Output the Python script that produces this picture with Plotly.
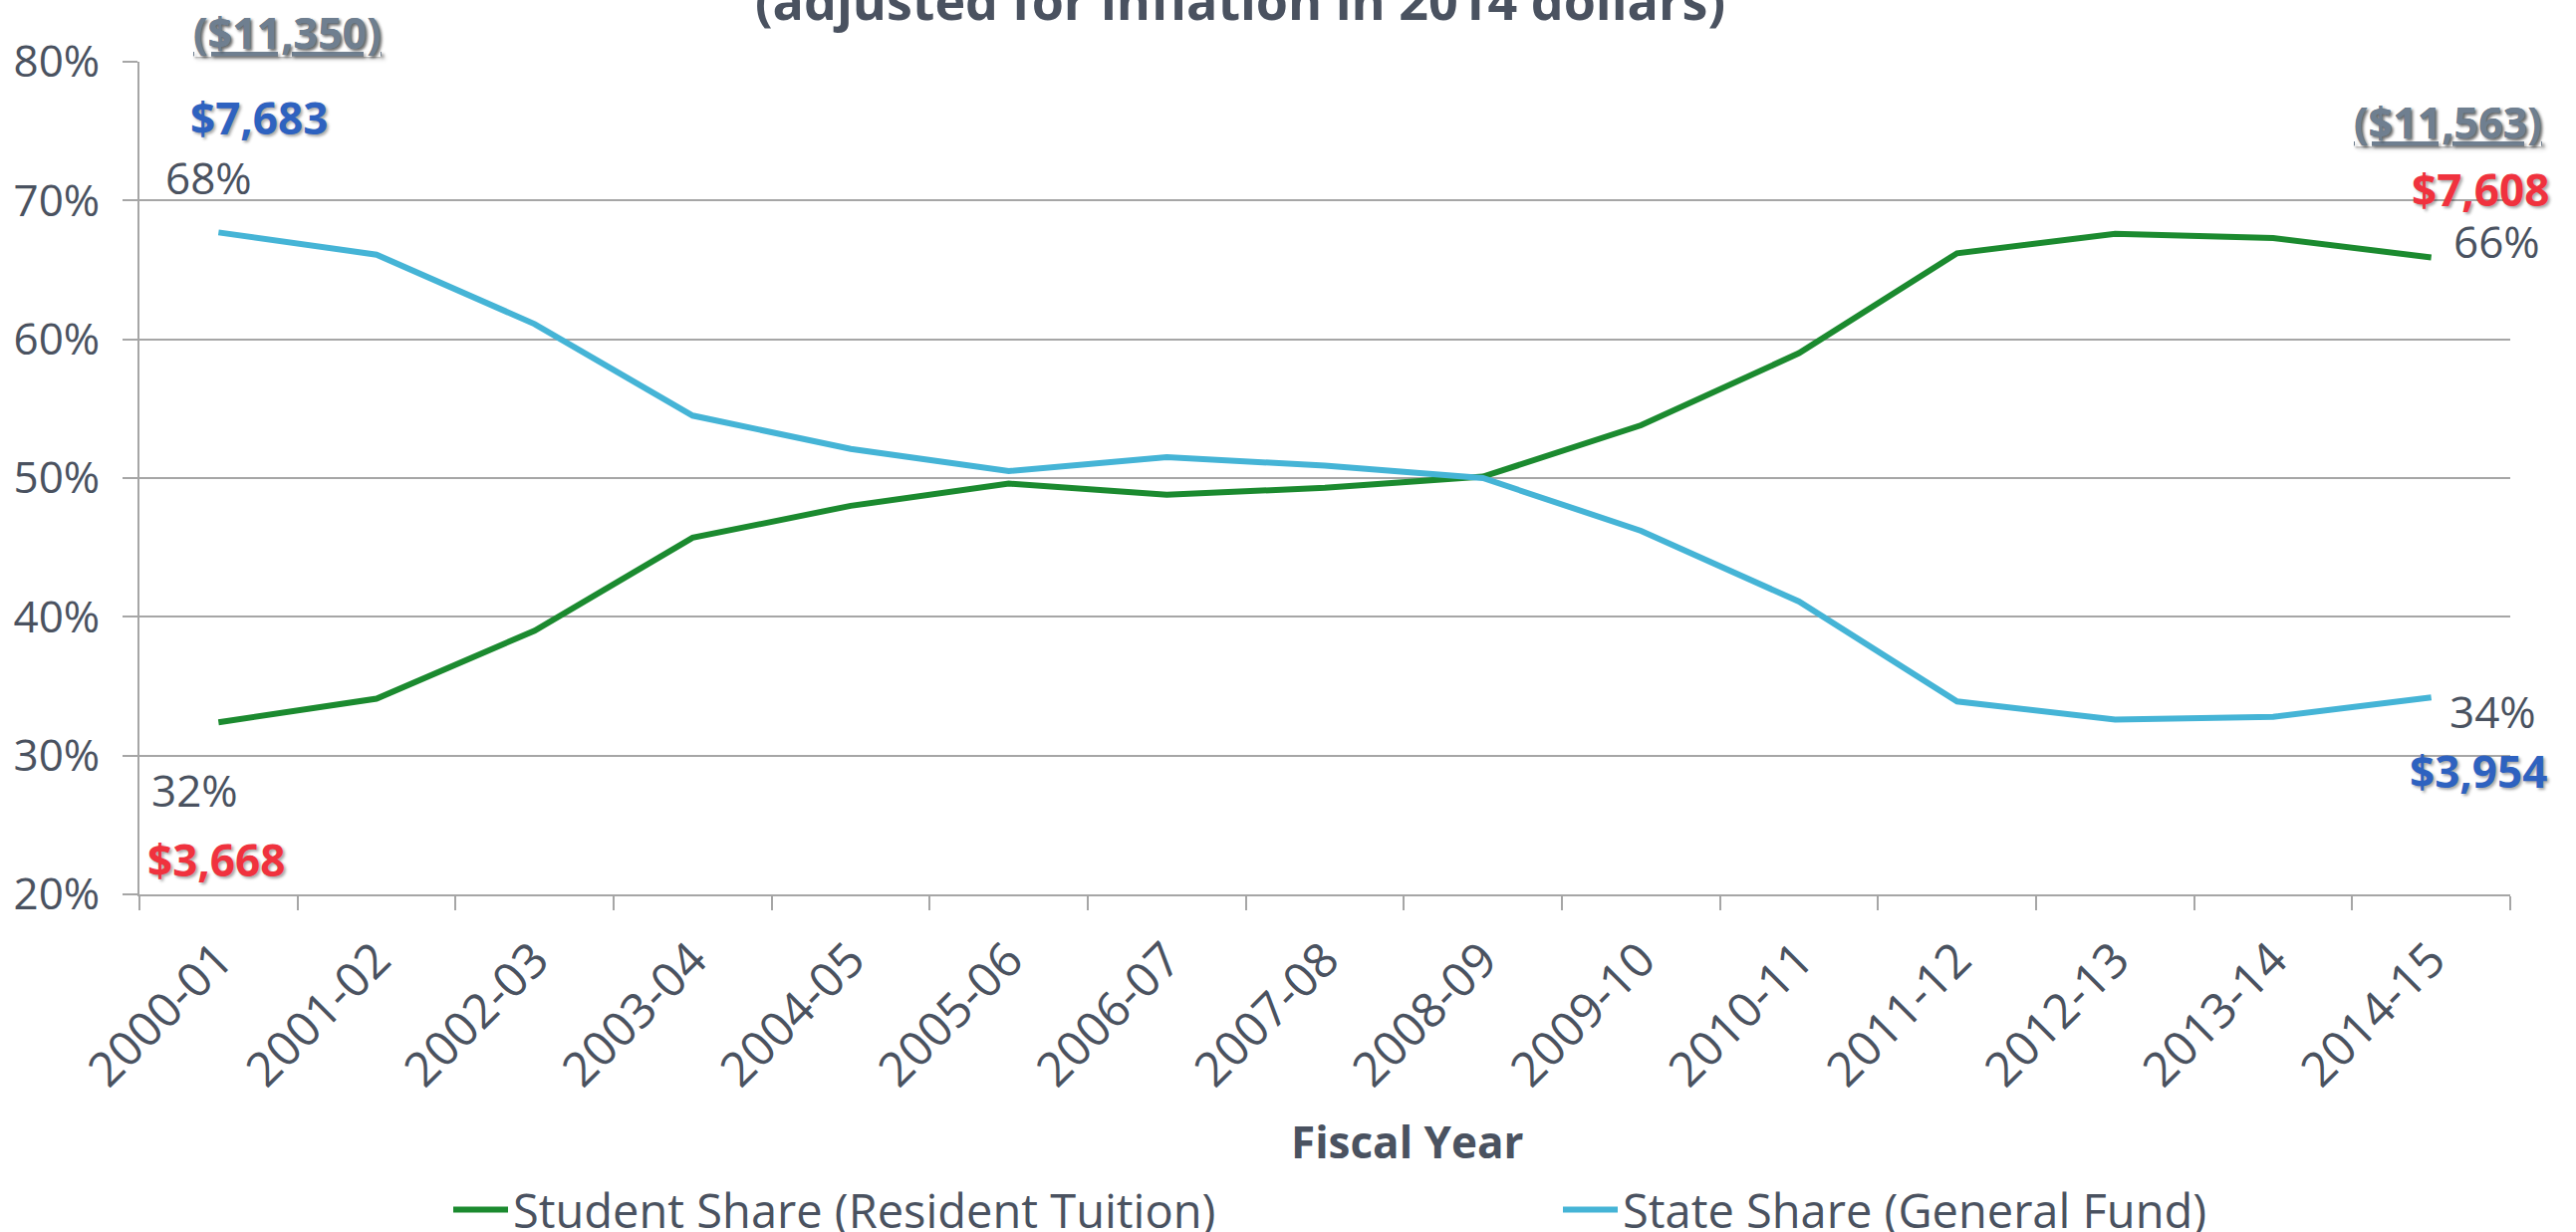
import plotly.graph_objects as go

years = ["2000-01", "2001-02", "2002-03", "2003-04", "2004-05", "2005-06", "2006-07",
         "2007-08", "2008-09", "2009-10", "2010-11", "2011-12", "2012-13", "2013-14", "2014-15"]
student_share = [32.4, 34.1, 39.0, 45.7, 48.0, 49.6, 48.8, 49.3, 50.1, 53.8, 59.0, 66.2, 67.6, 67.3, 65.9]
state_share = [67.7, 66.1, 61.1, 54.5, 52.1, 50.5, 51.5, 50.9, 50.0, 46.2, 41.1, 33.9, 32.6, 32.8, 34.2]
series_names = ["Student Share (Resident Tuition)", "State Share (General Fund)"]
y_ticks = [20, 30, 40, 50, 60, 70, 80]
y_tick_labels = ["20%", "30%", "40%", "50%", "60%", "70%", "80%"]

W, H = 2586, 1237
L, R, T, B = 140, 66, 62, 339
PW, PH = W - L - R, H - T - B

def px_x(p):
    return (p - L) / PW

def px_y(p):
    return (H - B - p) / PH

TXT = "#4A5260"
GRID = "#A6A6A6"
FONT = "Open Sans"
GREEN = "#1B8A2F"
BLUE = "#45B4D6"
RED = "#F0323E"
DBLUE = "#2E62C0"
SLATE = "#6F7F90"
SHADOW = "2px 2px 3px rgba(0,0,0,0.35)"

fig = go.Figure()
fig.add_trace(go.Scatter(x=years, y=student_share, mode="lines", name=series_names[0],
                         line=dict(color=GREEN, width=6), legend="legend"))
fig.add_trace(go.Scatter(x=years, y=state_share, mode="lines", name=series_names[1],
                         line=dict(color=BLUE, width=6), legend="legend2"))

labels = [
    # text, x px, y px, color, bold, underline, shadow, size
    ("(adjusted for inflation in 2014 dollars)", 1245, -1, TXT, True, False, False, 52),
    ("($11,350)", 288, 32, SLATE, True, True, True, 43),
    ("$7,683", 260, 118, DBLUE, True, False, True, 44),
    ("68%", 209, 178, TXT, False, False, False, 44),
    ("32%", 195, 793, TXT, False, False, False, 44),
    ("$3,668", 217, 863, RED, True, False, True, 44),
    ("($11,563)", 2457, 123, SLATE, True, True, True, 43),
    ("$7,608", 2490, 190, RED, True, False, True, 44),
    ("66%", 2506, 242, TXT, False, False, False, 44),
    ("34%", 2502, 714, TXT, False, False, False, 44),
    ("$3,954", 2488, 774, DBLUE, True, False, True, 44),
    ("Fiscal Year", 1413, 1146, TXT, True, False, False, 44),
]
for text, x, y, color, bold, under, shadow, size in labels:
    font = dict(family=FONT, size=size, color=color, weight="bold" if bold else "normal")
    if under:
        font["lineposition"] = "under"
    if shadow:
        font["shadow"] = SHADOW
    fig.add_annotation(text=text, x=px_x(x), y=px_y(y), xref="paper", yref="paper",
                       xanchor="center", yanchor="middle", showarrow=False, font=font)

legend_common = dict(orientation="h", xanchor="left", yanchor="middle", y=px_y(1215),
                     font=dict(family=FONT, size=47, color=TXT), itemwidth=55,
                     bgcolor="rgba(0,0,0,0)")

fig.update_layout(
    width=W, height=H, autosize=False,
    margin=dict(l=L, r=R, t=T, b=B, pad=0, autoexpand=False),
    plot_bgcolor="white", paper_bgcolor="white",
    font=dict(family=FONT, size=44, color=TXT),
    showlegend=True,
    legend=dict(x=px_x(450), **legend_common),
    legend2=dict(x=px_x(1564), **legend_common),
    xaxis=dict(type="category", categoryorder="array", categoryarray=years,
               range=[-0.5, len(years) - 0.5], tickson="boundaries",
               ticks="outside", ticklen=14, tickwidth=2, tickcolor=GRID,
               showline=True, linecolor=GRID, linewidth=2, showgrid=False,
               tickangle=-45, ticklabelstandoff=16, automargin=False,
               tickfont=dict(family=FONT, size=48, color=TXT)),
    yaxis=dict(range=[20, 80], tickmode="array", tickvals=y_ticks, ticktext=y_tick_labels,
               ticks="outside", ticklen=15, tickwidth=2, tickcolor=GRID,
               showline=True, linecolor=GRID, linewidth=2,
               showgrid=True, gridcolor=GRID, gridwidth=2, zeroline=False,
               ticklabelstandoff=14, automargin=False,
               tickfont=dict(family=FONT, size=44, color=TXT)),
)

fig.write_html("out.html", config={"displayModeBar": False},
               post_script="document.body.style.margin='0';document.body.style.overflow='hidden';")
